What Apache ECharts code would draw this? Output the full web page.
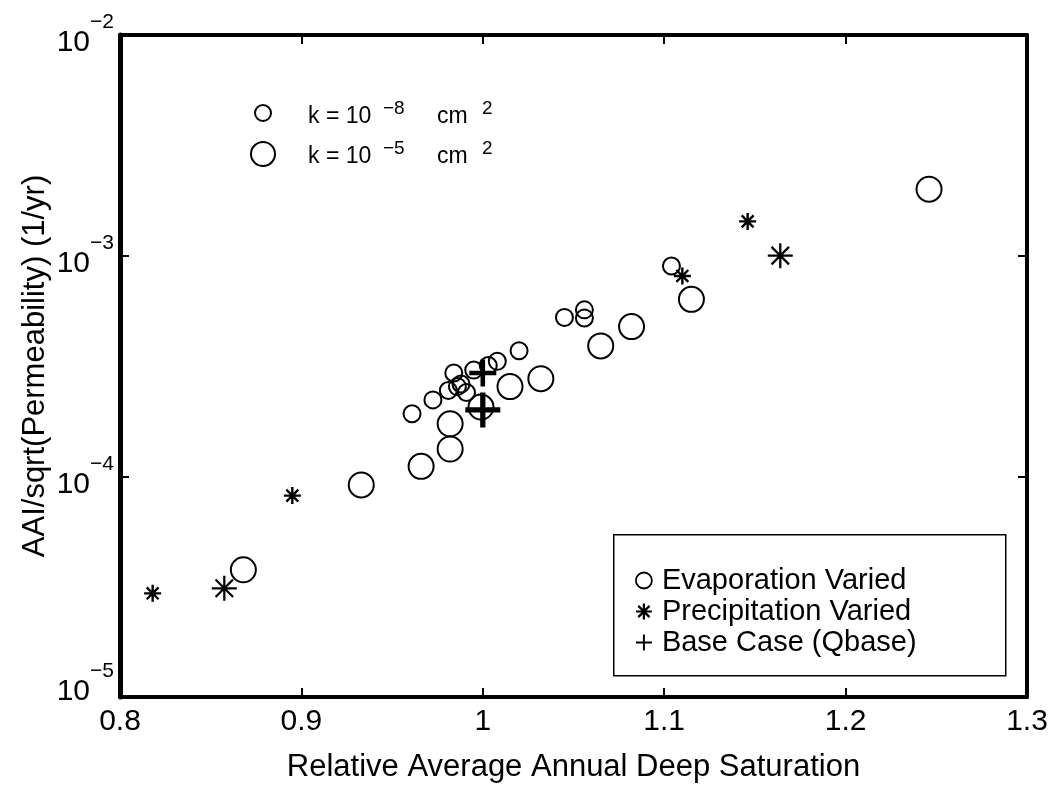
<!DOCTYPE html>
<html>
<head>
<meta charset="utf-8">
<style>
  html, body { margin: 0; padding: 0; background: #fff; }
  #chart { width: 1055px; height: 788px; }
</style>
<script src="https://cdn.jsdelivr.net/npm/echarts@6/dist/echarts.min.js"></script>
</head>
<body>
<div id="chart"></div>
<script>
// ---------- data ----------
const xTicks = [0.8, 0.9, 1.0, 1.1, 1.2, 1.3];
const yTickExponents = [-5, -4, -3, -2];

// Evaporation varied, k = 1e-8 cm^2 (small circles)
const evapSmallX = [0.961, 0.9725, 0.981, 0.984, 0.986, 0.988, 0.991, 0.995, 1.003, 1.008, 1.020, 1.045, 1.056, 1.056, 1.104];
const evapSmallY = [1.92e-4, 2.22e-4, 2.45e-4, 2.94e-4, 2.55e-4, 2.62e-4, 2.40e-4, 3.03e-4, 3.18e-4, 3.32e-4, 3.71e-4, 5.25e-4, 5.68e-4, 5.22e-4, 8.98e-4];
// Evaporation varied, k = 1e-5 cm^2 (large circles)
const evapLargeX = [0.868, 0.933, 0.966, 0.982, 0.982, 0.999, 1.015, 1.032, 1.065, 1.082, 1.115, 1.246];
const evapLargeY = [3.77e-5, 9.14e-5, 1.11e-4, 1.33e-4, 1.73e-4, 2.06e-4, 2.55e-4, 2.77e-4, 3.90e-4, 4.77e-4, 6.34e-4, 2.0e-3];
// Precipitation varied
const precSmallX = [0.818, 0.895, 1.110, 1.146];
const precSmallY = [2.95e-5, 8.18e-5, 8.09e-4, 1.43e-3];
const precLargeX = [0.8575, 1.164];
const precLargeY = [3.11e-5, 1.0e-3];
// Base case
const baseSmallX = [1.0];
const baseSmallY = [2.94e-4];
const baseLargeX = [1.0];
const baseLargeY = [2.0e-4];

// ---------- symbol shapes ----------
function starPath(h) {
  const o = h / Math.SQRT2, a = 15, b = 85;
  return 'path://' +
    `M0 ${50 - h}L100 ${50 - h}L100 ${50 + h}L0 ${50 + h}Z` +
    `M${50 - h} 0L${50 + h} 0L${50 + h} 100L${50 - h} 100Z` +
    `M${a + o} ${a - o}L${b + o} ${b - o}L${b - o} ${b + o}L${a - o} ${a + o}Z` +
    `M${b - o} ${a - o}L${b + o} ${a + o}L${a + o} ${b + o}L${a - o} ${b - o}Z`;
}
function plusPath(h) {
  const l = 50 - h, r = 50 + h;
  return `path://M${l} 0L${r} 0L${r} ${l}L100 ${l}L100 ${r}L${r} ${r}L${r} 100L${l} 100L${l} ${r}L0 ${r}L0 ${l}L${l} ${l}Z`;
}
const STAR_S = starPath(7), STAR_L = starPath(4.5);
const PLUS_S = plusPath(8.5), PLUS_L = plusPath(7.5), PLUS_LEG = plusPath(6);

function zipItems(xs, ys, extra) {
  return xs.map((x, i) => Object.assign({ value: [x, ys[i]] }, extra));
}

const FONT = '"Liberation Sans", Arial, Helvetica, sans-serif';
const chart = echarts.init(document.getElementById('chart'));

const yMin = Math.pow(10, yTickExponents[0]);
const supLabel = v => {
  const e = Math.round(Math.log10(v));
  const s = '{b|10}{s|' + (e < 0 ? '\u2212' + (-e) : e) + '}';
  // lowest label sits slightly above its tick, as in the reference
  return Math.abs(v - yMin) < yMin * 1e-6 ? s + '\n{g| }' : s;
};

const keyText = (x, y, exp) => ([
  { type: 'text', x: x, y: y, z: 10, style: { text: 'k = 10', fontFamily: FONT, fontSize: 23, fill: '#000', verticalAlign: 'middle' } },
  { type: 'text', x: x + 75, y: y - 8, z: 10, style: { text: exp, fontFamily: FONT, fontSize: 19, fill: '#000', verticalAlign: 'middle' } },
  { type: 'text', x: x + 129, y: y, z: 10, style: { text: 'cm', fontFamily: FONT, fontSize: 23, fill: '#000', verticalAlign: 'middle' } },
  { type: 'text', x: x + 174, y: y - 8, z: 10, style: { text: '2', fontFamily: FONT, fontSize: 19, fill: '#000', verticalAlign: 'middle' } }
]);

const option = {
  backgroundColor: '#fff',
  animation: false,
  grid: { left: 120, top: 35, right: 28, bottom: 91, containLabel: false },
  xAxis: [{
    type: 'value', min: 0.8, max: 1.3, interval: 0.1,
    name: 'Relative Average Annual Deep Saturation',
    nameLocation: 'middle', nameGap: 55,
    nameTextStyle: { fontFamily: FONT, fontSize: 31, color: '#000' },
    axisLine: { show: true, onZero: false, lineStyle: { color: '#000', width: 4 } },
    axisTick: { show: true, inside: true, length: 9, lineStyle: { color: '#000', width: 2 } },
    axisLabel: { fontFamily: FONT, fontSize: 30, color: '#000', margin: 10,
      formatter: v => String(+(+v).toFixed(1)) },
    splitLine: { show: false }
  }, {
    type: 'value', min: 0.8, max: 1.3, interval: 0.1, position: 'top',
    axisLine: { show: true, onZero: false, lineStyle: { color: '#000', width: 4 } },
    axisTick: { show: true, inside: true, length: 9, lineStyle: { color: '#000', width: 2 } },
    axisLabel: { show: false }, splitLine: { show: false }
  }],
  yAxis: [{
    type: 'log', logBase: 10, min: 1e-5, max: 1e-2,
    name: 'AAI/sqrt(Permeability) (1/yr)',
    nameLocation: 'middle', nameGap: 69, nameMoveOverlap: false,
    nameTextStyle: { fontFamily: FONT, fontSize: 31, color: '#000' },
    axisLine: { show: true, onZero: false, lineStyle: { color: '#000', width: 5 } },
    axisTick: { show: true, inside: true, length: 9, lineStyle: { color: '#000', width: 2 } },
    axisLabel: {
      margin: 6, formatter: supLabel,
      rich: {
        b: { fontFamily: FONT, fontSize: 30, color: '#000', lineHeight: 46, verticalAlign: 'bottom' },
        s: { fontFamily: FONT, fontSize: 21, color: '#000', lineHeight: 22, verticalAlign: 'top' },
        g: { fontFamily: FONT, fontSize: 10, lineHeight: 26 }
      }
    },
    splitLine: { show: false }
  }, {
    type: 'log', logBase: 10, min: 1e-5, max: 1e-2, position: 'right',
    axisLine: { show: true, onZero: false, lineStyle: { color: '#000', width: 4 } },
    axisTick: { show: true, inside: true, length: 9, lineStyle: { color: '#000', width: 2 } },
    axisLabel: { show: false }, splitLine: { show: false }
  }],
  legend: {
    orient: 'vertical', left: 630, top: 560,
    itemWidth: 18, itemHeight: 16, itemGap: 0,
    textStyle: { fontFamily: FONT, fontSize: 29, color: '#000', lineHeight: 31, padding: [0, 0, 0, 4] },
    data: [
      { name: 'Evaporation Varied', icon: 'circle', itemStyle: { color: 'rgba(0,0,0,0)', borderColor: '#000', borderWidth: 1.8, opacity: 1 } },
      { name: 'Precipitation Varied', icon: STAR_S, itemStyle: { color: '#000', borderWidth: 0, opacity: 1 } },
      { name: 'Base Case (Qbase)', icon: PLUS_LEG, itemStyle: { color: '#000', borderWidth: 0, opacity: 1 } }
    ]
  },
  graphic: [
    // legend frame
    { type: 'rect', left: 613, top: 534, shape: { x: 0, y: 0, width: 392, height: 141 },
      style: { fill: 'rgba(0,0,0,0)', stroke: '#000', lineWidth: 1.5 }, z: 10 },
    // permeability key (top-left)
    { type: 'circle', shape: { cx: 263, cy: 113, r: 8 }, style: { fill: 'none', stroke: '#000', lineWidth: 2 }, z: 10 },
    { type: 'circle', shape: { cx: 263, cy: 154, r: 12 }, style: { fill: 'none', stroke: '#000', lineWidth: 2 }, z: 10 }
  ].concat(keyText(308, 117, '\u22128'), keyText(308, 157, '\u22125')),
  series: [
    {
      name: 'Evaporation Varied', type: 'scatter', symbol: 'circle',
      itemStyle: { color: 'rgba(0,0,0,0)', borderColor: '#000', borderWidth: 2, opacity: 1 },
      data: zipItems(evapSmallX, evapSmallY, { symbolSize: 17 })
        .concat(zipItems(evapLargeX, evapLargeY, { symbolSize: 25 })),
      z: 3
    },
    {
      name: 'Precipitation Varied', type: 'scatter',
      itemStyle: { color: '#000', opacity: 1 },
      data: zipItems(precSmallX, precSmallY, { symbol: STAR_S, symbolSize: 17 })
        .concat(zipItems(precLargeX, precLargeY, { symbol: STAR_L, symbolSize: 25 })),
      z: 4
    },
    {
      name: 'Base Case (Qbase)', type: 'scatter',
      itemStyle: { color: '#000', opacity: 1 },
      data: zipItems(baseSmallX, baseSmallY, { symbol: PLUS_S, symbolSize: 27 })
        .concat(zipItems(baseLargeX, baseLargeY, { symbol: PLUS_L, symbolSize: 35 })),
      z: 5
    }
  ]
};
chart.setOption(option);
</script>
</body>
</html>
